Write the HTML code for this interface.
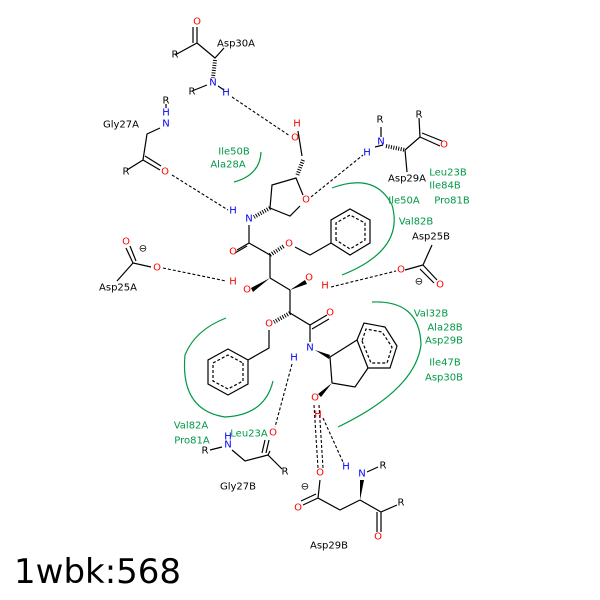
<!DOCTYPE html>
<html><head><meta charset="utf-8"><style>
html,body{margin:0;padding:0;background:#fff}
svg{display:block}
text{font-family:"DejaVu Sans","Liberation Sans",sans-serif;font-size:10px;dominant-baseline:central}
.a{text-anchor:middle}
.r{fill:#f00}.b{fill:#00f}.g{fill:#009944}
.bd{stroke:#000;stroke-width:1.2;fill:none}
.d{stroke:#000;stroke-width:1.1;fill:none;stroke-dasharray:3,2}
.h{stroke:#000;stroke-width:4;fill:none;stroke-dasharray:1,1.5}
.arc{stroke:#009944;stroke-width:1.2;fill:none}
</style></head><body>
<svg width="600" height="600" viewBox="0 0 600 600">
<g class="bd">
<path d="M197,27 L197,43 M193,27 L193,43 M175,55 L197,43 L215,58 L224,48"/>
<path d="M192,91 L207,85 M218,86 L224,90"/>
<path d="M298,131 L302,156"/>
<path d="M303,195 L296,178 L272,185 L270,208 L290,216 L300,206"/>
<path d="M375,147 L383,145 M381,127 L381,137 M405,150 L420,137 L419,118 M420,137 L440,146 M422,133 L442,141 M405,150 L407,172"/>
<path d="M166,104 L166,108 M160,128 L147,134 L143,160 L127,170 M143,160 L160,170 M145,156 L161,166"/>
<path d="M249,225 L249,243 L237,250 M247,246 L235,253 M249,243 L270,255 L270,278 M290,290 L290,313 L310,325 L327,315 M312,329 L329,319 M310,325 L310,342 M270,278 L290,290"/>
<path d="M295,247 L310,255 L331,243"/>
<path d="M269,330 L269,348 L248,360"/>
<path d="M126,248 L133,263 L151,267 M130,246 L136,261 M133,263 L117,281"/>
<path d="M432,245 L423,265 L405,270 M423,265 L437,280 M420,269 L434,283"/>
<path d="M332,383 L355,387 L368,368 M330,357 L332,383 M357,340 L330,357"/>
<path d="M270,451 L268,455 L282,469 M265,440 L262,453 M269,440 L266,453 M268,455 L245,461 L232,450 M210,450 L222,447"/>
<path d="M367,472 L378,467 M360,500 L340,510 L318,498 L320,480 M318,498 L303,505 M316,494 L301,501 M360,500 L381,512 L397,505 M381,512 L381,532 M377,512 L377,532"/>
</g>
<path class="h" d="M215,60 L213,78"/>
<path class="h" d="M303,160 L297,176"/>
<path class="h" d="M270,208 L254,217"/>
<path class="h" d="M386,146 L405,150"/>
<path class="h" d="M270,255 L284,246"/>
<path class="h" d="M290,313 L274,322"/>
<polygon points="270,278 251,288 253,292" fill="#000"/>
<polygon points="290,290 305,280 307,284" fill="#000"/>
<polygon points="315,350 330,355 329,359" fill="#000"/>
<polygon points="332,383 318,394 321,397" fill="#000"/>
<polygon points="360,500 360,480 364,480" fill="#000"/>
<g class="bd">
<polygon points="331,243 331,220 350,209 370,220 370,243 350,255"/>
<polygon points="336,240 336,223 350,215 365,223 365,240 350,249" stroke-dasharray="3,2"/>
<polygon points="248,360 248,384 228,395 208,384 208,360 228,349"/>
<polygon points="243,363 243,381 228,389 213,381 213,363 228,355" stroke-dasharray="3,2"/>
<polygon points="357,340 368,368 390,368 397,346 385,327 364,323"/>
<polygon points="362,341 371,363 387,363 392,347 382,332 366,329" stroke-dasharray="3,2"/>
</g>
<g class="d">
<path d="M232,97 L290,136"/>
<path d="M172,175 L228,210"/>
<path d="M311,197 L363,155"/>
<path d="M163,268 L226,281"/>
<path d="M331,287 L396,271"/>
<path d="M292,364 L275,427"/>
<path d="M314,405 L318,468 M319,405 L323,468"/>
<path d="M323,418 L343,462"/>
</g>
<path class="arc" d="M261,152 Q260,175 234,182"/>
<path class="arc" d="M332,188 Q375,172 392,205 Q405,250 342,275"/>
<path class="arc" d="M226,318 Q195,330 185,355 Q180,410 225,417 Q265,415 273,381"/>
<path class="arc" d="M372,302 Q420,300 421,345 Q415,390 338,427"/>
<g class="a">
<text x="197" y="22" class="r">O</text>
<text x="175" y="55">R</text>
<text x="192" y="92">R</text>
<text x="213" y="83" class="b">N</text>
<text x="226" y="93" class="b">H</text>
<text x="295" y="138" class="r">O</text>
<text x="297" y="124" class="r">H</text>
<text x="306" y="200" class="r">O</text>
<text x="249" y="219" class="b">N</text>
<text x="233" y="211" class="b">H</text>
<text x="381" y="142" class="b">N</text>
<text x="367" y="153" class="b">H</text>
<text x="380" y="120">R</text>
<text x="419" y="115">R</text>
<text x="444" y="145" class="r">O</text>
<text x="166" y="101">R</text>
<text x="166" y="113" class="b">H</text>
<text x="166" y="124" class="b">N</text>
<text x="126" y="172">R</text>
<text x="165" y="172" class="r">O</text>
<text x="233" y="252" class="r">O</text>
<text x="289" y="244" class="r">O</text>
<text x="247" y="290" class="r">O</text>
<text x="233" y="282" class="r">H</text>
<text x="309" y="278" class="r">O</text>
<text x="325" y="286" class="r">H</text>
<text x="126" y="242" class="r">O</text>
<text x="157" y="268" class="r">O</text>
<text x="143" y="249">⊖</text>
<text x="401" y="270" class="r">O</text>
<text x="440" y="285" class="r">O</text>
<text x="419" y="282">⊖</text>
<text x="330" y="313" class="r">O</text>
<text x="269" y="324" class="r">O</text>
<text x="310" y="348" class="b">N</text>
<text x="294" y="358" class="b">H</text>
<text x="315" y="398" class="r">O</text>
<text x="318" y="415" class="r">H</text>
<text x="273" y="433" class="r">O</text>
<text x="285" y="472">R</text>
<text x="228" y="445" class="b">N</text>
<text x="228" y="437" class="b">H</text>
<text x="205" y="451">R</text>
<text x="346" y="467" class="b">H</text>
<text x="362" y="474" class="b">N</text>
<text x="383" y="466">R</text>
<text x="320" y="473" class="r">O</text>
<text x="298" y="508" class="r">O</text>
<text x="305" y="487">⊖</text>
<text x="401" y="503">R</text>
<text x="378" y="537" class="r">O</text>
</g>
<g class="a" style="font-size:9.5px">
<text x="236" y="44">Asp30A</text>
<text x="121" y="125">Gly27A</text>
<text x="407" y="179">Asp29A</text>
<text x="118" y="288">Asp25A</text>
<text x="431" y="237">Asp25B</text>
<text x="238" y="487">Gly27B</text>
<text x="329" y="546">Asp29B</text>
<text x="234" y="152" class="g">Ile50B</text>
<text x="228" y="165" class="g">Ala28A</text>
<text x="448" y="173" class="g">Leu23B</text>
<text x="445" y="186" class="g">Ile84B</text>
<text x="452" y="201" class="g">Pro81B</text>
<text x="404" y="201" class="g">Ile50A</text>
<text x="416" y="222" class="g">Val82B</text>
<text x="431" y="314" class="g">Val32B</text>
<text x="445" y="328" class="g">Ala28B</text>
<text x="444" y="341" class="g">Asp29B</text>
<text x="445" y="363" class="g">Ile47B</text>
<text x="444" y="378" class="g">Asp30B</text>
<text x="191" y="426" class="g">Val82A</text>
<text x="192" y="441" class="g">Pro81A</text>
<text x="249" y="434" class="g">Leu23A</text>
</g>
<text x="14" y="572" style="font-size:34px">1wbk:568</text>
</svg>
</body></html>
